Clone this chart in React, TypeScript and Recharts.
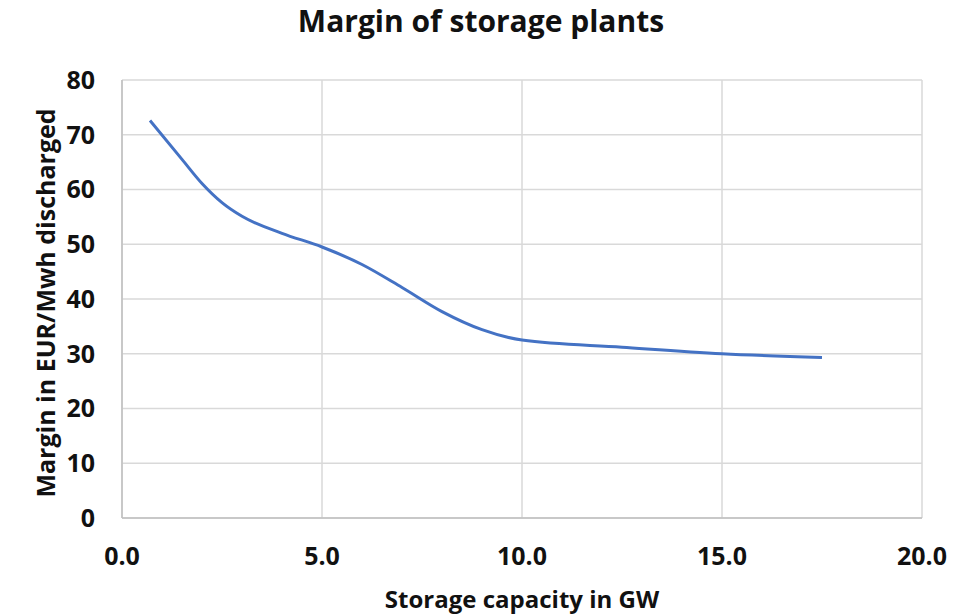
import { LineChart, Line, XAxis, YAxis, CartesianGrid } from "recharts";

const capacityGW = [0.7, 1.5, 2.0, 2.5, 3.0, 4.0, 5.0, 6.0, 7.0, 8.0, 9.0, 10.0, 12.5, 15.0, 17.5];
const marginEur = [72.6, 65.5, 61.1, 57.6, 55.1, 52.0, 49.5, 46.3, 42.1, 37.7, 34.4, 32.5, 31.2, 30.0, 29.3];
const xTicks = [0, 5, 10, 15, 20];
const yTicks = [0, 10, 20, 30, 40, 50, 60, 70, 80];

const data = capacityGW.map((gw, i) => ({ gw, margin: marginEur[i] }));

const FONT = "'Open Sans', sans-serif";

const YLabel = (props: any) => {
  const { viewBox } = props;
  const cx = 55;
  const cy = viewBox.y + viewBox.height / 2 + 4;
  return (
    <text
      x={cx}
      y={cy}
      transform={`rotate(-90, ${cx}, ${cy})`}
      textAnchor="middle"
      fontFamily={FONT}
      fontWeight={700}
      fontSize={25}
      fill="#111"
    >
      Margin in EUR/Mwh discharged
    </text>
  );
};

const XLabel = (props: any) => {
  const { viewBox } = props;
  const cx = viewBox.x + viewBox.width / 2;
  return (
    <text
      x={cx}
      y={608}
      textAnchor="middle"
      fontFamily={FONT}
      fontWeight={700}
      fontSize={24}
      fill="#111"
    >
      Storage capacity in GW
    </text>
  );
};

const App = () => {
  return (
    <div style={{ position: "absolute", left: 0, top: 0, width: 956, height: 616, background: "#fff" }}>
      <div
        style={{
          position: "absolute",
          left: 0,
          top: 0,
          width: 962,
          textAlign: "center",
          fontFamily: FONT,
          fontWeight: 700,
          fontSize: 30,
          color: "#111",
        }}
      >
        Margin of storage plants
      </div>
      <LineChart
        width={956}
        height={616}
        data={data}
        margin={{ top: 80, right: 34, left: 0, bottom: 0 }}
      >
        <CartesianGrid stroke="#d9d9d9" strokeWidth={1.5} />
        <XAxis
          dataKey="gw"
          type="number"
          domain={[0, 20]}
          ticks={xTicks}
          tickFormatter={(v: number) => v.toFixed(1)}
          height={98}
          tickLine={false}
          tickSize={0}
          tickMargin={29}
          axisLine={{ stroke: "#bfbfbf", strokeWidth: 1.5 }}
          tick={{ fontFamily: FONT, fontWeight: 700, fontSize: 25, fill: "#111" }}
          label={<XLabel />}
        />
        <YAxis
          type="number"
          domain={[0, 80]}
          ticks={yTicks}
          width={122}
          tickLine={false}
          tickSize={0}
          tickMargin={27}
          axisLine={{ stroke: "#bfbfbf", strokeWidth: 1.5 }}
          tick={{ fontFamily: FONT, fontWeight: 700, fontSize: 25, fill: "#111" }}
          label={<YLabel />}
        />
        <Line
          type="monotone"
          dataKey="margin"
          stroke="#4472C4"
          strokeWidth={3}
          dot={false}
          isAnimationActive={false}
        />
      </LineChart>
    </div>
  );
};

export default App;
